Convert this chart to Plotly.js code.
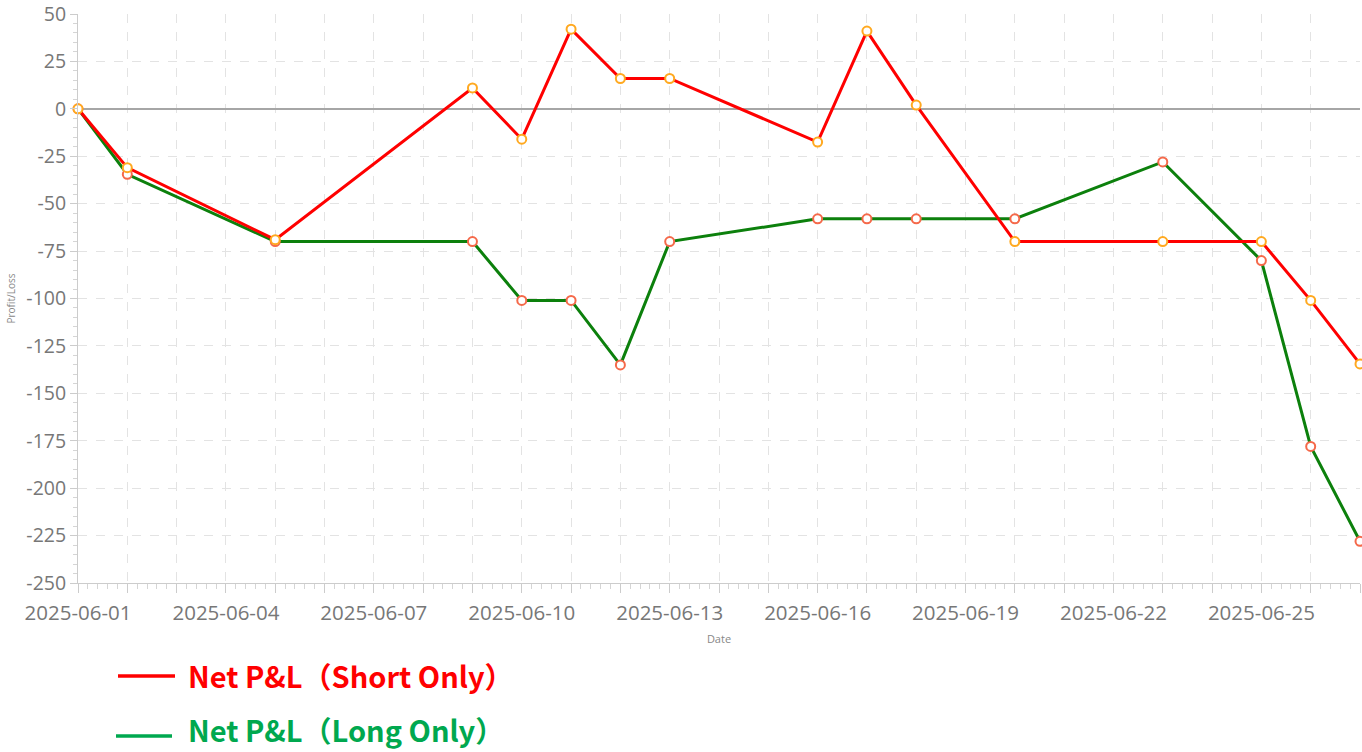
<!DOCTYPE html>
<html>
<head>
<meta charset="utf-8">
<script src="https://cdn.plot.ly/plotly-3.0.1.min.js"></script>
<style>html,body{margin:0;padding:0;background:#fff;}#chart{width:1362px;height:752px;}</style>
</head>
<body>
<div id="chart"></div>
<script>
var dates = ['2025-06-01','2025-06-02','2025-06-05','2025-06-09','2025-06-10','2025-06-11','2025-06-12','2025-06-13','2025-06-16','2025-06-17','2025-06-18','2025-06-20','2025-06-23','2025-06-25','2025-06-26','2025-06-27'];
var shortPnL = [0, -31, -69, 11, -16, 42, 16, 16, -17.5, 41, 2, -70, -70, -70, -101, -134.5];
var longPnL  = [0, -34.5, -70, -70, -101, -101, -135, -70, -58, -58, -58, -58, -28, -80, -178, -228];
var seriesNames = ['Net P&L（Short Only）', 'Net P&L（Long Only）'];
var dayTicks = ['2025-06-01','2025-06-02','2025-06-03','2025-06-04','2025-06-05','2025-06-06','2025-06-07','2025-06-08','2025-06-09','2025-06-10','2025-06-11','2025-06-12','2025-06-13','2025-06-14','2025-06-15','2025-06-16','2025-06-17','2025-06-18','2025-06-19','2025-06-20','2025-06-21','2025-06-22','2025-06-23','2025-06-24','2025-06-25','2025-06-26','2025-06-27'];
var dayLabels = ['2025-06-01','','','2025-06-04','','','2025-06-07','','','2025-06-10','','','2025-06-13','','','2025-06-16','','','2025-06-19','','','2025-06-22','','','2025-06-25','',''];
var yTicks = [50, 25, 0, -25, -50, -75, -100, -125, -150, -175, -200, -225, -250];
var yLabels = ['50', '25', '0', '-25', '-50', '-75', '-100', '-125', '-150', '-175', '-200', '-225', '-250'];

var traces = [
  {x: dates, y: longPnL, name: seriesNames[1], type: 'scatter', mode: 'lines+markers', showlegend: false,
   line: {color: '#0c800c', width: 3},
   marker: {size: 9, color: '#ffffff', line: {color: '#f5694a', width: 2}}, cliponaxis: false},
  {x: dates, y: shortPnL, name: seriesNames[0], type: 'scatter', mode: 'lines+markers', showlegend: false,
   line: {color: '#ff0000', width: 3},
   marker: {size: 9, color: '#ffffff', line: {color: '#ffa920', width: 2}}, cliponaxis: false}
];

var L = 78, R = 1360, T = 14, B = 583;
function px(x){ return (x - L) / (R - L); }
function py(y){ return (B - y) / (B - T); }

var layout = {
  width: 1362, height: 752,
  margin: {l: L, r: 1362 - R, t: T, b: 752 - B},
  paper_bgcolor: '#ffffff', plot_bgcolor: '#ffffff',
  font: {family: 'Open Sans, sans-serif', color: '#777777'},
  showlegend: false,
  xaxis: {
    type: 'date', range: ['2025-06-01', '2025-06-27'],
    tickmode: 'array', tickvals: dayTicks, ticktext: dayLabels,
    ticks: 'outside', ticklen: 9, tickcolor: '#cccccc', tickwidth: 1,
    ticklabelstandoff: 2, ticklabeloverflow: 'allow',
    showgrid: true, gridcolor: '#e3e3e3', griddash: 'dash', gridwidth: 1,
    showline: true, linecolor: '#cccccc', linewidth: 1,
    tickfont: {size: 20.5, color: '#777777'},
    zeroline: false,
    minor: {dtick: 86400000 / 5, ticks: 'outside', ticklen: 5, tickcolor: '#d5d5d5', showgrid: false},
    title: {text: 'Date', font: {size: 11, color: '#888888'}, standoff: 10}
  },
  yaxis: {
    range: [-250, 50], tickmode: 'array', tickvals: yTicks, ticktext: yLabels,
    ticks: 'outside', ticklen: 7, tickcolor: '#cccccc', ticklabeloverflow: 'allow',
    showgrid: true, gridcolor: '#e3e3e3', griddash: 'dash', gridwidth: 1,
    showline: true, linecolor: '#cccccc', linewidth: 1,
    tickfont: {size: 19.5, color: '#777777'},
    zeroline: true, zerolinecolor: '#a6a6a6', zerolinewidth: 2,
    minor: {dtick: 5, ticks: 'outside', ticklen: 4, tickcolor: '#d5d5d5', showgrid: false},
    title: {text: 'Profit/Loss', font: {size: 10, color: '#888888'}, standoff: 8}
  },
  shapes: [
    {type: 'line', xref: 'paper', yref: 'paper', x0: px(118), x1: px(175), y0: py(676), y1: py(676), line: {color: '#ff0000', width: 3.5}},
    {type: 'line', xref: 'paper', yref: 'paper', x0: px(116), x1: px(172), y0: py(736), y1: py(736), line: {color: '#00a84f', width: 3.5}}
  ],
  annotations: [
    {xref: 'paper', yref: 'paper', x: px(186), y: py(675), xanchor: 'left', yanchor: 'middle', showarrow: false,
     text: seriesNames[0], font: {family: 'Noto Sans CJK SC, sans-serif', size: 29, color: '#ff0000', weight: 700}},
    {xref: 'paper', yref: 'paper', x: px(186), y: py(752), xanchor: 'left', yanchor: 'bottom', showarrow: false,
     text: seriesNames[1], font: {family: 'Noto Sans CJK SC, sans-serif', size: 29, color: '#00a84f', weight: 700}}
  ]
};

Plotly.newPlot('chart', traces, layout, {displayModeBar: false, staticPlot: true});
</script>
</body>
</html>
